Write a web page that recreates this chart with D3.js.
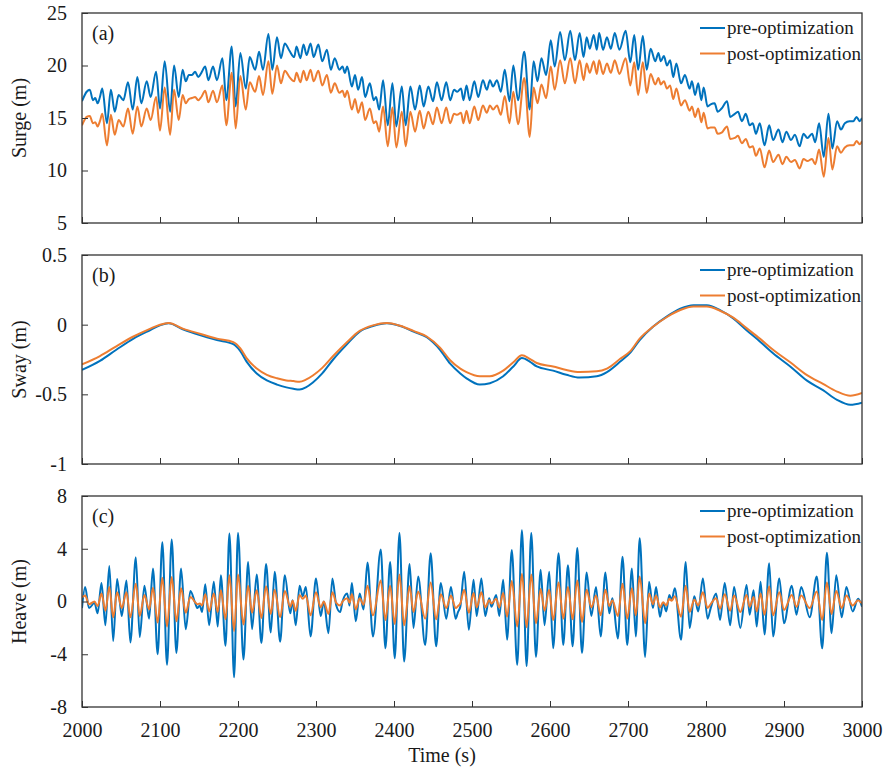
<!DOCTYPE html>
<html><head><meta charset="utf-8">
<script src="https://cdn.jsdelivr.net/npm/d3@7"></script>
<style>
body{margin:0;background:#fff}
text{font-family:"Liberation Serif","Times New Roman",serif;fill:#1a1a1a}
</style>
</head><body>
<svg id="chart" width="889" height="768"></svg>
<script>
// ---------------- data ----------------
const seriesNames = ["pre-optimization", "post-optimization"];
const timeTicks = [2000, 2100, 2200, 2300, 2400, 2500, 2600, 2700, 2800, 2900, 3000];
const surgeTicks = [5, 10, 15, 20, 25];
const swayTicks = [-1, -0.5, 0, 0.5];
const heaveTicks = [-8, -4, 0, 4, 8];

const surgeTime = [
2000,2006,2010,2014,2017,2020,2023,2026,2032,2037,
2042,2047,2053,2059,2065,2071,2076,2083,2088,2095,
2100,2106,2113,2118,2124,2129,2133,2137,2141,2145,
2149,2153,2158,2162,2168,2173,2180,2185,2192,2197,
2203,2210,2215,2222,2227,2232,2239,2244,2250,2255,
2260,2266,2272,2275,2280,2284,2288,2293,2297,2303,
2308,2314,2319,2324,2330,2334,2337,2340,2346,2350,
2354,2359,2363,2369,2374,2377,2381,2386,2392,2398,
2403,2410,2415,2421,2427,2433,2438,2444,2450,2455,
2461,2467,2472,2477,2481,2486,2489,2493,2497,2503,
2508,2514,2519,2523,2527,2532,2537,2542,2548,2553,
2559,2567,2574,2579,2584,2589,2595,2601,2606,2613,
2619,2626,2632,2638,2643,2647,2651,2656,2660,2663,
2668,2673,2678,2683,2689,2697,2703,2708,2713,2719,
2724,2729,2735,2739,2742,2746,2750,2754,2758,2762,
2768,2773,2779,2782,2786,2790,2794,2797,2802,2806,
2811,2815,2820,2827,2831,2837,2841,2846,2851,2856,
2860,2864,2869,2875,2881,2886,2893,2898,2903,2909,
2914,2920,2925,2930,2936,2940,2945,2951,2957,2962,
2968,2973,2978,2984,2989,2993,2997,3000];
const surgePre = [
16.6,17.5,17.7,16.7,16.9,16.4,17.0,17.8,14.5,17.7,
15.6,17.2,16.7,18.4,15.8,18.9,16.4,18.5,17.0,19.4,
15.9,20.4,15.6,20.0,17.0,19.6,18.5,19.1,19.1,19.4,
18.9,19.3,19.9,18.6,19.9,18.6,20.7,16.7,21.8,16.1,
21.2,17.8,20.8,19.6,21.3,19.6,23.0,19.6,22.7,20.7,
22.1,21.4,20.8,21.8,20.7,22.0,21.0,22.1,20.8,22.0,
20.4,21.5,19.6,20.7,19.6,19.9,19.3,19.9,18.0,19.1,
17.7,18.9,17.0,18.3,16.7,17.0,15.8,18.6,14.3,18.3,
14.2,18.0,14.3,18.0,15.8,18.1,16.1,18.0,16.6,18.4,
16.7,18.4,16.7,17.7,17.5,17.8,16.7,18.1,16.7,18.5,
17.0,18.6,17.7,18.6,18.0,18.6,17.5,19.6,16.6,20.0,
16.7,21.3,15.8,20.4,18.5,20.7,19.1,22.4,19.9,23.2,
20.5,23.3,20.5,23.1,20.8,22.7,21.6,22.9,21.5,23.1,
21.5,22.7,21.6,23.1,21.5,23.3,20.3,22.9,19.6,22.8,
19.6,21.6,20.4,21.2,20.4,20.9,20.0,20.5,18.9,20.2,
18.3,19.1,17.8,18.5,17.2,18.3,16.7,17.9,16.1,16.3,
16.4,15.6,15.9,16.6,15.1,15.4,15.6,14.7,15.4,14.3,
14.5,13.5,14.5,12.4,14.3,12.9,13.9,12.7,13.7,12.9,
13.4,12.3,13.5,13.1,13.5,12.7,14.5,11.3,15.4,12.1,
14.7,13.9,14.5,14.7,14.7,15.1,14.7,15.0];
const surgePost = [
14.3,15.1,15.2,14.5,14.6,14.2,14.7,15.4,12.4,15.3,
13.4,14.8,14.2,15.9,13.5,16.1,14.2,15.9,14.8,17.0,
13.8,17.9,13.4,17.7,14.8,17.2,16.4,16.8,16.9,17.0,
16.7,17.0,17.6,16.5,17.6,16.5,18.1,14.3,19.3,14.0,
19.0,15.8,18.4,17.5,19.0,17.2,20.4,17.3,20.0,18.3,
19.5,18.9,18.5,19.3,18.4,19.5,18.6,19.6,18.5,19.5,
18.1,19.1,17.4,18.3,17.4,17.6,17.0,17.6,15.8,16.8,
15.5,16.5,14.8,15.9,14.5,14.7,13.7,16.1,12.3,16.0,
12.2,15.6,12.3,15.6,13.7,15.7,14.0,15.6,14.4,16.0,
14.5,16.0,14.5,15.4,15.3,15.5,14.5,15.7,14.5,16.1,
14.8,16.2,15.5,16.2,15.8,16.2,15.3,17.1,14.5,17.5,
14.4,18.8,13.2,17.9,16.4,18.2,16.9,19.9,17.7,20.5,
18.3,20.7,18.3,20.5,18.6,20.2,19.3,20.4,19.2,20.5,
19.2,20.2,19.3,20.5,19.2,20.7,18.1,20.3,17.2,20.3,
17.4,19.2,18.2,18.8,18.2,18.5,17.8,18.1,16.8,17.8,
16.2,16.7,15.7,16.1,15.1,15.9,14.6,15.5,14.0,14.1,
14.1,13.5,13.6,14.2,13.0,13.1,13.3,12.6,13.0,12.2,
12.3,11.4,12.1,10.3,11.9,10.8,11.5,10.6,11.3,10.8,
11.0,10.2,11.1,10.9,11.1,10.6,12.0,9.4,13.1,10.1,
12.3,11.7,12.2,12.4,12.4,12.8,12.5,12.8];

const swayTime = [
2000,2023,2044,2066,2087,2100,2111,2130,2151,2173,
2194,2203,2211,2224,2237,2250,2262,2271,2279,2287,
2296,2308,2322,2339,2356,2373,2391,2408,2425,2442,2459,
2472,2485,2493,2510,2523,2540,2553,2564,2574,2583,
2604,2621,2638,2660,2673,2690,2703,2715,2732,2750,
2767,2784,2801,2818,2835,2852,2869,2886,2908,2929,
2950,2968,2985,3000];
const swayPre = [
-0.325,-0.26,-0.18,-0.10,-0.04,-0.005,0.01,-0.035,-0.075,-0.11,
-0.14,-0.19,-0.265,-0.35,-0.40,-0.43,-0.45,-0.46,-0.465,-0.45,
-0.415,-0.35,-0.25,-0.145,-0.05,-0.01,0.01,-0.01,-0.05,-0.09,-0.18,
-0.28,-0.35,-0.385,-0.43,-0.42,-0.37,-0.30,-0.24,-0.265,-0.30,
-0.33,-0.36,-0.38,-0.37,-0.34,-0.265,-0.20,-0.11,-0.015,0.06,
0.115,0.14,0.14,0.105,0.045,-0.04,-0.12,-0.205,-0.30,-0.40,
-0.47,-0.54,-0.575,-0.56];
const swayPost = [
-0.285,-0.225,-0.155,-0.085,-0.03,0.0,0.012,-0.03,-0.065,-0.10,
-0.125,-0.17,-0.24,-0.315,-0.36,-0.385,-0.40,-0.405,-0.41,-0.395,
-0.365,-0.31,-0.225,-0.13,-0.045,-0.005,0.012,-0.008,-0.045,-0.085,-0.165,
-0.255,-0.315,-0.34,-0.37,-0.37,-0.33,-0.27,-0.22,-0.245,-0.275,
-0.30,-0.325,-0.34,-0.335,-0.315,-0.245,-0.19,-0.10,-0.015,0.055,
0.105,0.13,0.13,0.10,0.05,-0.025,-0.10,-0.18,-0.27,-0.36,
-0.425,-0.48,-0.51,-0.49];

const heaveTime = [
2000,2004,2009,2016,2020,2025,2030,2035,2040,2045,
2051,2057,2062,2069,2074,2080,2086,2091,2097,2103,
2109,2115,2121,2127,2133,2139,2145,2148,2151,2154,
2158,2163,2169,2174,2178,2184,2189,2195,2200,2207,
2213,2218,2224,2230,2236,2242,2247,2254,2260,2267,
2270,2274,2279,2283,2287,2293,2300,2306,2310,2316,
2321,2326,2331,2334,2340,2343,2346,2351,2356,2361,
2366,2373,2383,2389,2395,2401,2407,2413,2420,2425,
2431,2440,2447,2454,2460,2467,2473,2479,2482,2485,
2490,2496,2502,2506,2512,2517,2522,2525,2531,2535,
2540,2545,2551,2558,2564,2570,2576,2582,2588,2593,
2599,2604,2611,2617,2623,2629,2635,2641,2647,2653,
2659,2665,2671,2676,2680,2687,2693,2699,2705,2710,
2715,2722,2727,2732,2736,2741,2745,2749,2753,2756,
2760,2768,2774,2779,2785,2790,2796,2802,2806,2813,
2818,2824,2831,2836,2844,2852,2856,2861,2865,2870,
2875,2881,2886,2894,2900,2910,2916,2922,2933,2942,
2949,2955,2961,2967,2974,2980,2988,2995,3000];
const heavePre = [
-0.5,1.1,-0.5,-0.1,-0.9,1.4,-1.8,2.7,-3.0,1.7,
-1.1,1.6,-3.1,3.35,-2.7,1.2,-1.3,2.5,-4.0,4.5,
-4.8,4.7,-3.9,2.5,-2.1,0.8,-0.1,-0.5,-0.3,-0.8,
1.3,-1.8,1.5,-1.9,2.0,-3.35,5.15,-5.75,5.2,-4.4,
3.0,-2.1,2.05,-3.15,2.85,-2.35,2.25,-3.05,2.0,-0.9,
0.1,-1.8,1.2,0.4,1.1,-2.65,1.75,-1.1,0.0,-2.4,
1.75,-0.3,-0.8,0.0,0.6,-0.3,1.4,-1.5,0.6,-0.6,
2.95,-2.65,3.95,-3.55,3.0,-4.3,5.2,-4.55,2.85,-2.0,
1.9,-3.3,3.65,-3.4,1.4,-1.3,1.1,-1.3,-0.8,-0.4,
2.25,-2.15,1.65,-1.1,1.75,-1.1,0.25,-0.4,0.5,-1.1,
1.65,-2.9,3.9,-4.8,5.4,-4.9,5.2,-4.2,2.4,-1.8,
2.25,-3.55,3.65,-3.3,2.75,-3.4,4.05,-3.9,2.2,-1.1,
1.1,-2.65,2.2,-0.9,0.25,-2.8,3.4,-3.3,2.5,-2.65,
4.8,-4.2,1.5,-0.5,1.1,-1.15,-0.1,-0.75,0.5,0.1,
1.0,-2.9,3.0,-2.0,0.4,-0.75,1.75,-1.3,-0.5,0.6,
-1.4,1.4,-1.8,1.1,-2.0,1.25,-1.0,0.85,-1.9,1.5,
-2.5,2.9,-2.65,1.75,-1.65,1.2,-1.0,1.1,-1.2,1.9,
-3.55,3.7,-2.4,2.0,-1.2,1.1,-0.75,0.2,-0.4];
const heavePost = [
0.3,0.45,-0.2,0.0,-0.35,0.6,-0.7,1.1,-1.2,0.7,
-0.5,0.7,-1.2,1.35,-1.1,0.5,-0.6,1.05,-1.6,1.8,
-1.9,1.85,-1.5,1.0,-0.85,0.35,-0.05,-0.2,-0.15,-0.3,
0.55,-0.75,0.6,-0.8,0.85,-1.35,2.0,-2.25,2.05,-1.75,
1.2,-0.85,0.85,-1.25,1.15,-0.95,0.9,-1.2,0.8,-0.4,
0.05,-0.7,0.5,0.2,0.45,-1.05,0.7,-0.45,0.0,-0.95,
0.7,-0.1,-0.3,0.0,0.25,-0.1,0.55,-0.6,0.25,-0.25,
1.2,-1.05,1.6,-1.4,1.2,-1.7,2.05,-1.8,1.15,-0.8,
0.75,-1.3,1.45,-1.35,0.55,-0.5,0.45,-0.5,-0.35,-0.15,
0.9,-0.85,0.65,-0.45,0.7,-0.45,0.1,-0.15,0.2,-0.45,
0.65,-1.15,1.55,-1.9,2.1,-1.95,2.05,-1.65,0.95,-0.7,
0.9,-1.4,1.45,-1.3,1.1,-1.35,1.6,-1.55,0.9,-0.45,
0.45,-1.05,0.9,-0.35,0.1,-1.1,1.35,-1.3,1.0,-1.05,
1.9,-1.65,0.6,-0.2,0.45,-0.45,-0.05,-0.3,0.2,0.05,
0.4,-1.15,1.2,-0.8,0.15,-0.3,0.7,-0.5,-0.2,0.25,
-0.55,0.55,-0.7,0.45,-0.8,0.5,-0.4,0.35,-0.75,0.6,
-1.0,1.15,-1.05,0.7,-0.65,0.5,-0.4,0.45,-0.5,0.75,
-1.4,1.45,-0.95,0.8,-0.5,0.45,-0.3,0.1,-0.15];

// ---------------- drawing ----------------
const colors = ["#0072BD", "#ED7D31"];
const svg = d3.select("#chart");
const X0 = 82, X1 = 862;
const x = d3.scaleLinear().domain([2000, 3000]).range([X0, X1]);

const panels = [
  {top: 13, bottom: 223, domain: [5, 25], ticks: surgeTicks, label: "Surge (m)", tag: "(a)",
   time: surgeTime, series: [surgePre, surgePost], width: 2},
  {top: 255, bottom: 464, domain: [-1, 0.5], ticks: swayTicks, label: "Sway (m)", tag: "(b)",
   time: swayTime, series: [swayPre, swayPost], width: 2},
  {top: 496, bottom: 707, domain: [-8, 8], ticks: heaveTicks, label: "Heave (m)", tag: "(c)",
   time: heaveTime, series: [heavePre, heavePost], width: 2}
];

const fmt = d => String(d);

panels.forEach((p, i) => {
  const y = d3.scaleLinear().domain(p.domain).range([p.bottom, p.top]);
  const g = svg.append("g");
  const clipId = "clip" + i;
  svg.append("clipPath").attr("id", clipId).append("rect")
    .attr("x", X0).attr("y", p.top).attr("width", X1 - X0).attr("height", p.bottom - p.top);

  // lines
  const line = d3.line().curve(d3.curveMonotoneX);
  p.series.forEach((vals, k) => {
    const pts = p.time.map((t, j) => [x(t), y(vals[j])]);
    g.append("path").attr("d", line(pts)).attr("fill", "none")
      .attr("stroke", colors[k]).attr("stroke-width", p.width)
      .attr("stroke-linejoin", "round").attr("clip-path", `url(#${clipId})`);
  });

  // left axis
  const ya = d3.axisLeft(y).tickValues(p.ticks).tickFormat(fmt).tickSizeInner(-6).tickSizeOuter(0).tickPadding(15);
  const gy = svg.append("g").attr("transform", `translate(${X0},0)`).call(ya);
  gy.select(".domain").remove();
  gy.selectAll("line").attr("stroke", "#333");
  gy.selectAll("text").attr("font-size", 20).attr("font-family", "'Liberation Serif', serif").attr("fill", "#1a1a1a");

  // bottom axis
  const xa = d3.axisBottom(x).tickValues(timeTicks).tickFormat(i === 2 ? fmt : () => "")
    .tickSizeInner(-6).tickSizeOuter(0).tickPadding(16);
  const gx = svg.append("g").attr("transform", `translate(0,${p.bottom})`).call(xa);
  gx.select(".domain").remove();
  gx.selectAll("line").attr("stroke", "#333");
  gx.selectAll("text").attr("font-size", 20).attr("font-family", "'Liberation Serif', serif").attr("fill", "#1a1a1a");

  // frame
  svg.append("rect").attr("x", X0).attr("y", p.top).attr("width", X1 - X0).attr("height", p.bottom - p.top)
    .attr("fill", "none").attr("stroke", "#333").attr("stroke-width", 1.3);

  // y label
  svg.append("text").attr("transform", `translate(19,${(p.top + p.bottom) / 2}) rotate(-90)`)
    .attr("text-anchor", "middle").attr("dy", "0.35em").attr("font-size", 20).text(p.label);

  // tag
  svg.append("text").attr("x", 92).attr("y", p.top + 20).attr("dy", "0.35em")
    .attr("font-size", 20).text(p.tag);

  // legend
  seriesNames.forEach((name, k) => {
    const ly = p.top + 15 + k * 25.5;
    svg.append("line").attr("x1", 700).attr("x2", 725).attr("y1", ly).attr("y2", ly)
      .attr("stroke", colors[k]).attr("stroke-width", 2);
    svg.append("text").attr("x", 727).attr("y", ly).attr("dy", "0.32em")
      .attr("font-size", 19).text(name);
  });
});

svg.append("text").attr("x", 442).attr("y", 762).attr("text-anchor", "middle")
  .attr("font-size", 20).text("Time (s)");
</script>
</body></html>
